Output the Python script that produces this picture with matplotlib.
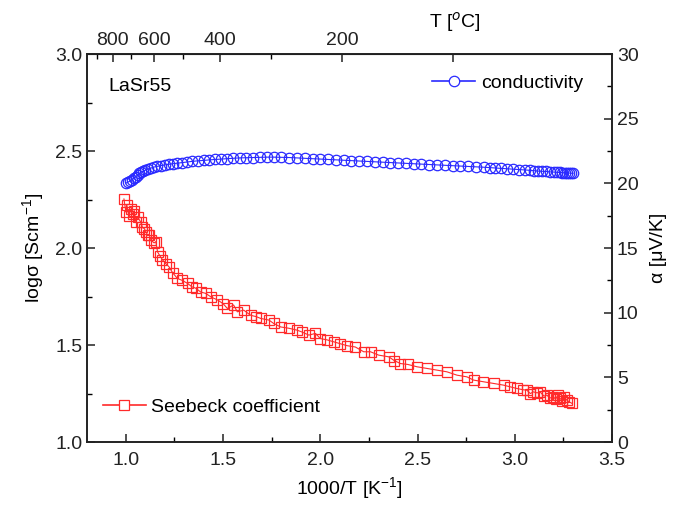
import matplotlib
matplotlib.use('Agg')
import matplotlib.pyplot as plt
from matplotlib.lines import Line2D
from matplotlib.ticker import MultipleLocator, FixedLocator

plt.rcParams['font.family'] = ['Liberation Sans', 'DejaVu Sans']
plt.rcParams['mathtext.fontset'] = 'custom'
plt.rcParams['mathtext.rm'] = 'Liberation Sans'

# conductivity (left axis)
x_cond = [1.0, 1.01, 1.02, 1.03, 1.04, 1.05, 1.06, 1.07, 1.08, 1.09, 1.10, 1.115, 1.13, 1.145,
          1.16, 1.18, 1.20, 1.22, 1.24, 1.265, 1.29, 1.315, 1.34, 1.37, 1.40, 1.43, 1.46, 1.49,
          1.52, 1.55, 1.585, 1.62, 1.655, 1.69, 1.725, 1.76, 1.80, 1.84, 1.88, 1.92, 1.96, 2.00,
          2.04, 2.08, 2.12, 2.16, 2.20, 2.24, 2.28, 2.32, 2.36, 2.40, 2.44, 2.48, 2.52, 2.56,
          2.60, 2.64, 2.68, 2.72, 2.76, 2.80, 2.84, 2.87, 2.90, 2.93, 2.96, 2.99, 3.02, 3.05,
          3.08, 3.10, 3.12, 3.14, 3.16, 3.18, 3.20, 3.215, 3.23, 3.245, 3.26, 3.27, 3.28, 3.29, 3.30]
log_sigma = [2.335, 2.34, 2.345, 2.352, 2.36, 2.368, 2.376, 2.385, 2.392, 2.397, 2.402, 2.408,
             2.413, 2.418, 2.421, 2.425, 2.429, 2.432, 2.435, 2.438, 2.441, 2.444, 2.447, 2.45,
             2.452, 2.455, 2.457, 2.459, 2.461, 2.463, 2.465, 2.466, 2.467, 2.468, 2.469, 2.469,
             2.468, 2.467, 2.465, 2.463, 2.461, 2.459, 2.457, 2.455, 2.453, 2.451, 2.449, 2.447,
             2.445, 2.443, 2.441, 2.439, 2.437, 2.435, 2.433, 2.431, 2.429, 2.427, 2.425, 2.423,
             2.421, 2.419, 2.417, 2.415, 2.413, 2.411, 2.409, 2.407, 2.405, 2.403, 2.401, 2.399,
             2.397, 2.396, 2.395, 2.393, 2.392, 2.391, 2.39, 2.389, 2.388, 2.387, 2.387, 2.386, 2.386]

# Seebeck coefficient (right axis)
x_seeb = [0.99, 1.0, 1.005, 1.015, 1.025, 1.035, 1.043, 1.051, 1.06, 1.077, 1.085, 1.095, 1.103,
          1.112, 1.12, 1.13, 1.145, 1.154, 1.163, 1.175, 1.188, 1.205, 1.222, 1.24, 1.265, 1.29,
          1.317, 1.34, 1.359, 1.385, 1.41, 1.44, 1.47, 1.5, 1.522, 1.554, 1.573, 1.606, 1.642,
          1.67, 1.693, 1.736, 1.76, 1.796, 1.838, 1.881, 1.907, 1.941, 1.975, 2.0, 2.035, 2.069,
          2.103, 2.138, 2.18, 2.223, 2.258, 2.30, 2.352, 2.38, 2.412, 2.45, 2.497, 2.549, 2.6,
          2.651, 2.703, 2.754, 2.788, 2.839, 2.891, 2.942, 2.976, 3.011, 3.04, 3.062, 3.08, 3.096,
          3.115, 3.13, 3.15, 3.165, 3.18, 3.199, 3.21, 3.22, 3.233, 3.245, 3.255, 3.268, 3.28, 3.294]
alpha = [18.8, 17.8, 18.3, 17.5, 18.0, 17.6, 17.9, 17.0, 17.4, 17.0, 16.6, 16.5, 16.25, 16.0,
         16.0, 15.6, 15.4, 15.5, 14.7, 14.4, 14.1, 13.8, 13.55, 13.1, 12.65, 12.5, 12.27, 12.0,
         11.9, 11.6, 11.5, 11.2, 11.0, 10.7, 10.33, 10.6, 10.07, 10.2, 9.8, 9.7, 9.56, 9.43, 9.17,
         8.9, 8.8, 8.65, 8.5, 8.27, 8.4, 8.0, 7.9, 7.75, 7.6, 7.45, 7.35, 6.98, 6.98, 6.72, 6.59,
         6.3, 6.07, 6.0, 5.82, 5.69, 5.56, 5.43, 5.17, 5.04, 4.79, 4.66, 4.53, 4.4, 4.27, 4.14,
         4.05, 4.01, 3.75, 3.88, 3.8, 3.88, 3.55, 3.63, 3.4, 3.5, 3.3, 3.6, 3.37, 3.2, 3.45, 3.24,
         3.1, 2.99]

# top axis ticks, degrees C
t_major = [800, 600, 400, 200, 100]
t_major_labels = ['800', '600', '400', '200', '']
t_minor = [900, 700, 500, 300]

blue = '#2a2aff'
red = '#ff2a2a'

fig = plt.figure(figsize=(6.77, 5.11), dpi=100)
ax = fig.add_axes([0.1285, 0.135, 0.7755, 0.759])
ax2 = ax.twinx()

ax.plot(x_cond, log_sigma, color=blue, lw=0.8, marker='o', ms=7.5,
        mfc='none', mec=blue, mew=0.9)
ax2.plot(x_seeb, alpha, color=red, lw=0.8, marker='s', ms=7,
         mfc='none', mec=red, mew=0.9)

ax.set_xlim(0.8, 3.5)
ax.set_ylim(1.0, 3.0)
ax2.set_ylim(0, 30)

ax.xaxis.set_major_locator(MultipleLocator(0.5))
ax.xaxis.set_minor_locator(MultipleLocator(0.25))
ax.yaxis.set_major_locator(MultipleLocator(0.5))
ax.yaxis.set_minor_locator(MultipleLocator(0.25))
ax2.yaxis.set_major_locator(MultipleLocator(5))
ax2.yaxis.set_minor_locator(MultipleLocator(2.5))

for a in (ax, ax2):
    a.tick_params(which='major', direction='in', length=6, width=1.1, labelsize=14, colors='#222222')
    a.tick_params(which='minor', direction='in', length=3.5, width=1.0)
    for s in a.spines.values():
        s.set_linewidth(1.2)
        s.set_color('#222222')
ax.tick_params(axis='both', which='both', top=False, right=False)
ax.tick_params(axis='x', pad=7)

secax = ax.secondary_xaxis('top', functions=(lambda x: 1000.0 / x - 273.15,
                                             lambda t: 1000.0 / (t + 273.15)))
secax.xaxis.set_major_locator(FixedLocator(t_major))
secax.set_xticklabels(t_major_labels)
secax.xaxis.set_minor_locator(FixedLocator(t_minor))
secax.tick_params(which='major', direction='in', length=6, width=1.1, labelsize=14, colors='#222222')
secax.tick_params(which='minor', direction='in', length=3.5, width=1.0)

ax.set_xlabel('1000/T [K$^{-1}$]', fontsize=14, labelpad=5)
ax.set_ylabel('log\u03c3 [Scm$^{-1}$]', fontsize=14, labelpad=6)
ax2.set_ylabel('\u03b1 [\u03bcV/K]', fontsize=14, labelpad=8)
ax.text(0.70, 1.082, 'T [$^{o}$C]', transform=ax.transAxes, ha='center', va='center', fontsize=14)

ax.text(0.04, 0.917, 'LaSr55', transform=ax.transAxes, ha='left', va='center', fontsize=14)

h1 = Line2D([], [], color=blue, lw=1.2, marker='o', ms=7.5, mfc='white', mec=blue, mew=0.9)
h2 = Line2D([], [], color=red, lw=1.2, marker='s', ms=7, mfc='white', mec=red, mew=0.9)
ax.legend([h1], ['conductivity'], loc='center right', bbox_to_anchor=(0.945, 0.925),
          frameon=False, fontsize=14, numpoints=1, handlelength=2.2, handletextpad=0.3,
          borderpad=0, borderaxespad=0)
ax2.legend([h2], ['Seebeck coefficient'], loc='center left', bbox_to_anchor=(0.03, 0.09),
           frameon=False, fontsize=14, numpoints=1, handlelength=2.2, handletextpad=0.3,
           borderpad=0, borderaxespad=0)

fig.savefig('out.png', dpi=100)
